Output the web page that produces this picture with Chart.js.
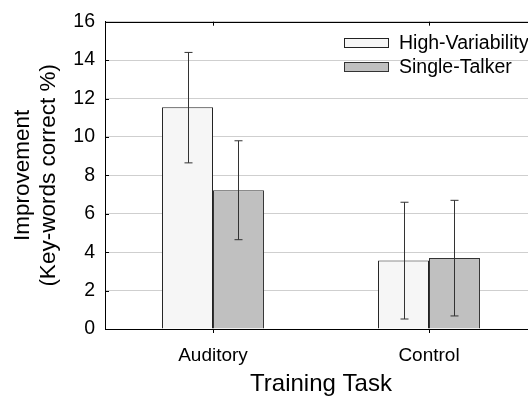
<!DOCTYPE html>
<html>
<head>
<meta charset="utf-8">
<script src="https://cdn.jsdelivr.net/npm/chart.js@4/dist/chart.umd.min.js"></script>
<style>
  html, body { margin: 0; padding: 0; background: #fff; overflow: hidden; }
  #wrap { width: 528px; height: 403px; overflow: hidden; }
</style>
</head>
<body>
<div id="wrap"><canvas id="chart" width="545" height="403"></canvas></div>
<script>
const categories = ['Auditory', 'Control'];
const seriesNames = ['High-Variability', 'Single-Talker'];
const highVariability = [11.55, 3.57];
const highVariabilityLow = [8.65, 0.52];
const highVariabilityHigh = [14.4, 6.6];
const singleTalker = [7.22, 3.7];
const singleTalkerLow = [4.65, 0.68];
const singleTalkerHigh = [9.8, 6.7];
const yTicks = [0, 2, 4, 6, 8, 10, 12, 14, 16];

const FONT = 'Liberation Sans, Arial, Helvetica, sans-serif';

// error bars drawn from the low/high arrays through the y scale
const errorBars = {
    id: 'errorBars',
    afterDatasetsDraw(chart) {
        const ctx = chart.ctx;
        const y = chart.scales.y;
        ctx.save();
        ctx.strokeStyle = '#333';
        ctx.lineWidth = 1;
        chart.data.datasets.forEach((ds, di) => {
            const meta = chart.getDatasetMeta(di);
            meta.data.forEach((bar, i) => {
                const x = Math.round(bar.x) + 0.5;
                const top = y.getPixelForValue(ds.errHigh[i]);
                const bot = y.getPixelForValue(ds.errLow[i]);
                ctx.beginPath();
                ctx.moveTo(x, top); ctx.lineTo(x, bot);
                ctx.moveTo(x - 4, top); ctx.lineTo(x + 4, top);
                ctx.moveTo(x - 4, bot); ctx.lineTo(x + 4, bot);
                ctx.stroke();
            });
        });
        ctx.restore();
    }
};

// top frame line, inward tick stubs and the in-plot legend
const frame = {
    id: 'frame',
    afterDraw(chart) {
        const ctx = chart.ctx;
        const a = chart.chartArea;
        const x = chart.scales.x;
        const y = chart.scales.y;
        ctx.save();
        ctx.strokeStyle = '#000';
        ctx.lineWidth = 1;
        ctx.beginPath();
        ctx.moveTo(a.left, Math.round(a.top) + 0.5);
        ctx.lineTo(a.right, Math.round(a.top) + 0.5);
        categories.forEach((c, i) => {
            const px = Math.round(x.getPixelForValue(i)) + 0.5;
            ctx.moveTo(px, a.top); ctx.lineTo(px, a.top + 4);
        });
        yTicks.forEach(v => {
            const py = Math.round(y.getPixelForValue(v)) + 0.5;
            ctx.moveTo(a.left, py); ctx.lineTo(a.left + 4, py);
        });
        ctx.stroke();

        const lx = a.right - 193;
        let ly = a.top + 21;
        chart.data.datasets.forEach(ds => {
            ctx.fillStyle = ds.backgroundColor;
            ctx.strokeStyle = ds.borderColor;
            ctx.fillRect(lx, ly - 4.5, 44, 9);
            ctx.strokeRect(lx + 0.5, Math.round(ly - 4.5) + 0.5, 44, 9);
            ctx.fillStyle = '#000';
            ctx.font = '19.5px ' + FONT;
            ctx.textBaseline = 'middle';
            ctx.fillText(ds.label, lx + 55, ly + 1);
            ly += 24;
        });
        ctx.restore();
    }
};

new Chart(document.getElementById('chart'), {
    type: 'bar',
    data: {
        labels: categories,
        datasets: [
            {
                label: seriesNames[0],
                data: highVariability,
                errLow: highVariabilityLow,
                errHigh: highVariabilityHigh,
                backgroundColor: '#f6f6f6',
                borderColor: '#222',
                borderWidth: 1
            },
            {
                label: seriesNames[1],
                data: singleTalker,
                errLow: singleTalkerLow,
                errHigh: singleTalkerHigh,
                backgroundColor: '#c0c0c0',
                borderColor: '#333',
                borderWidth: 1
            }
        ]
    },
    options: {
        responsive: false,
        animation: false,
        devicePixelRatio: 1,
        categoryPercentage: 0.472,
        barPercentage: 1,
        layout: { padding: { left: 0, top: 17, right: 8, bottom: 0 } },
        plugins: { legend: { display: false }, tooltip: { enabled: false } },
        scales: {
            x: {
                grid: { drawOnChartArea: false, offset: false, tickLength: 4, color: '#000' },
                border: { color: '#000' },
                ticks: { color: '#000', padding: 11, font: { family: FONT, size: 19 } },
                title: {
                    display: true,
                    text: 'Training Task',
                    color: '#000',
                    font: { family: FONT, size: 24 },
                    padding: { top: 0, bottom: 4 }
                },
                afterFit: s => { s.height = 74; }
            },
            y: {
                min: 0,
                max: 16,
                afterBuildTicks: s => { s.ticks = yTicks.map(v => ({ value: v })); },
                grid: { color: '#cfcfcf', drawTicks: false },
                border: { color: '#000' },
                ticks: { color: '#000', padding: 10, font: { family: FONT, size: 19.5 } },
                title: {
                    display: true,
                    text: ['Improvement', '(Key-words correct %)'],
                    color: '#000',
                    font: { family: FONT, size: 22.5, lineHeight: 1.15 },
                    padding: { top: 10, bottom: 0 }
                },
                afterFit: s => { s.width = 105; }
            }
        }
    },
    plugins: [errorBars, frame]
});
</script>
</body>
</html>
